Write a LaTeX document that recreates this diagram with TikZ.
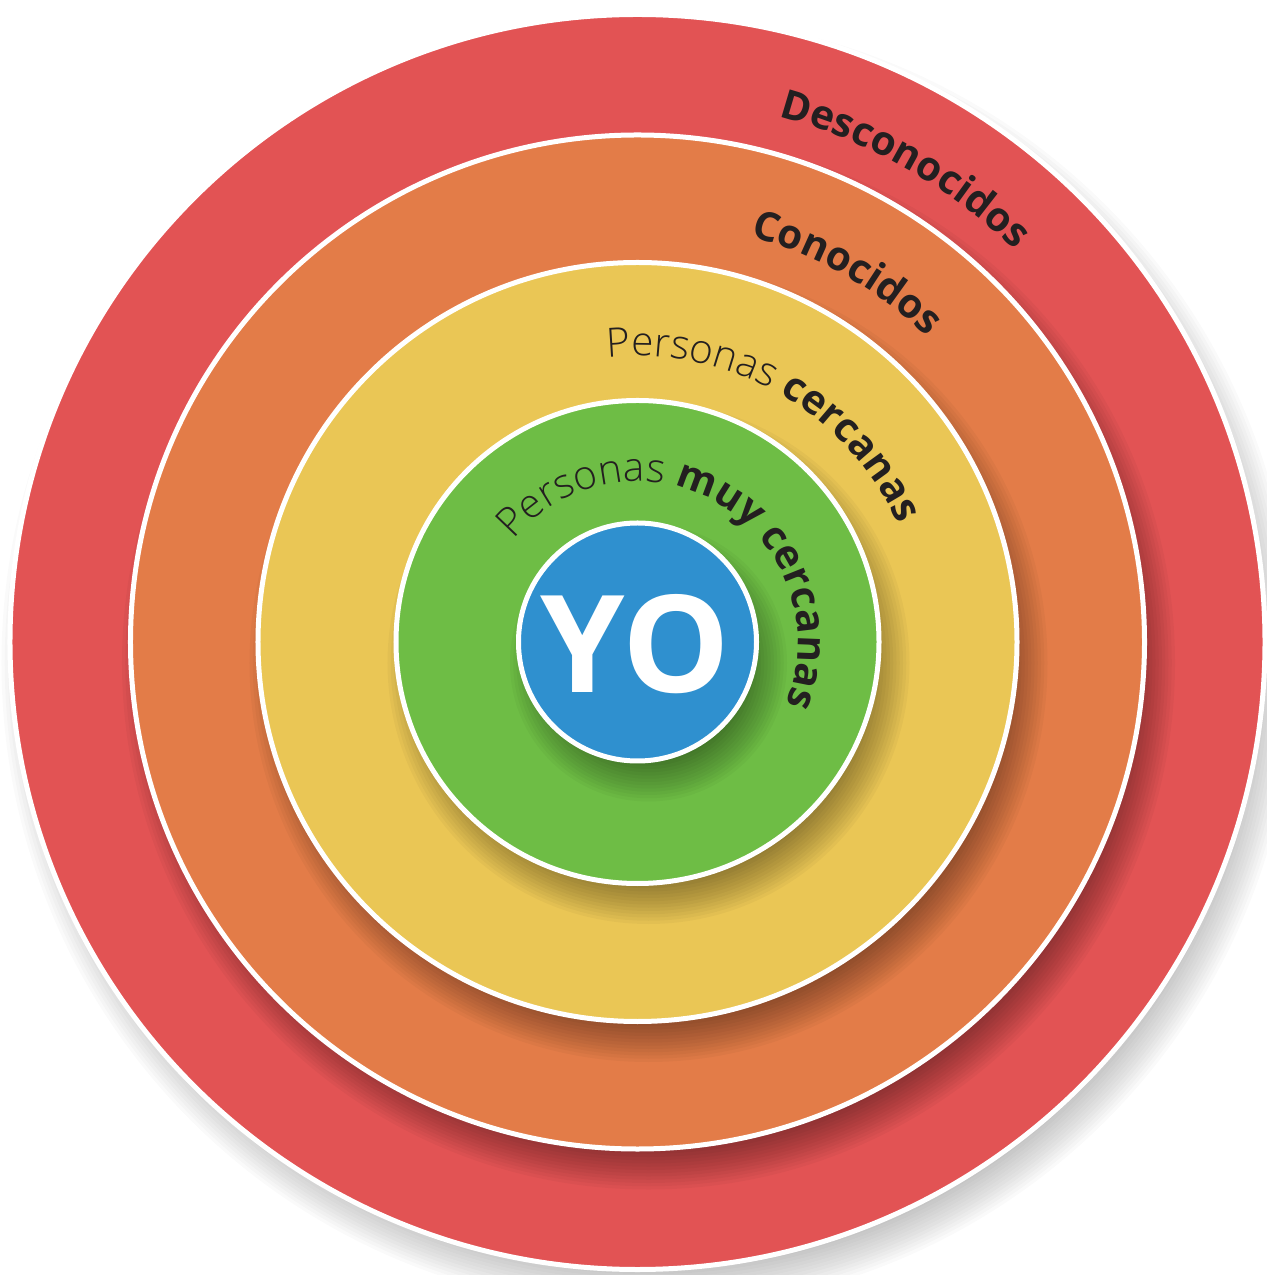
\documentclass[tikz,border=0pt]{standalone}
\usepackage{fontspec}
\setmainfont{Open Sans}
\newfontfamily\lightfont{Open Sans Light}
\usepackage{xcolor}
\usetikzlibrary{decorations.text}

\definecolor{ringred}{HTML}{E25354}
\definecolor{ringorange}{HTML}{E37C48}
\definecolor{ringyellow}{HTML}{EAC655}
\definecolor{ringgreen}{HTML}{6EBD45}
\definecolor{ringblue}{HTML}{2F90CF}
\definecolor{labeltext}{HTML}{231F20}

\newcommand{\lblthin}{\lightfont\fontsize{23}{26}\selectfont\color{labeltext}}
\newcommand{\lblbold}{\bfseries\fontsize{23}{26}\selectfont\color{labeltext}}

% soft shadow: a stack of faint circles, shifted down and right
\newcommand{\ringshadow}[2]{%
\foreach \k in {-6,...,6}
\fill[black, opacity=#2] (0.22,-0.42) circle ({#1+0.065*\k});
}

\tikzset{
ring/.style={fill=#1, draw=white, line width=0.1cm},
arclabel/.style={decorate, decoration={text along path, text align=left, text={#1}}}
}

\begin{document}
\begin{tikzpicture}

\useasboundingbox (-12.75,-12.66) rectangle (12.57,12.84);

\ringshadow{12.55}{0.02}
\draw[ring=ringred] (0,0) circle (12.55);

\ringshadow{10.14}{0.032}
\draw[ring=ringorange] (0,0) circle (10.14);

\ringshadow{7.59}{0.032}
\draw[ring=ringyellow] (0,0) circle (7.59);

\ringshadow{4.83}{0.032}
\draw[ring=ringgreen] (0,0) circle (4.83);

\ringshadow{2.38}{0.03}
\draw[ring=ringblue] (0,0) circle (2.38);

\node (yo) at (-0.04,-0.05) [text=white, font=\bfseries\fontsize{77}{77}\selectfont] {YO};

% labels along the rings, read clockwise
\path[arclabel={|\lblbold|Desconocidos}]
(75:10.88) arc[start angle=75, end angle=20, radius=10.88];

\path[arclabel={|\lblbold|Conocidos}]
(74.5:8.42) arc[start angle=74.5, end angle=20, radius=8.42];

\path[arclabel={|\lblthin|Personas |\lblbold|cercanas}]
(96:5.72) arc[start angle=96, end angle=0, radius=5.72];

\path[arclabel={|\lblthin|Personas |\lblbold|muy cercanas}]
(140.5:3.21) arc[start angle=140.5, end angle=-40, radius=3.21];

\end{tikzpicture}
\end{document}
